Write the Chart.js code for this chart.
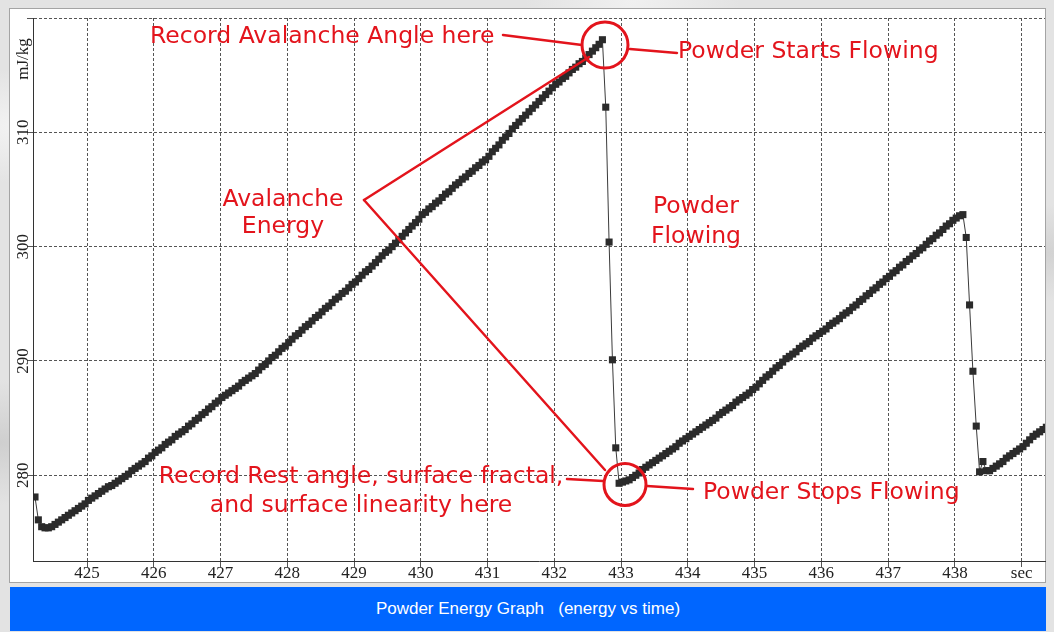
<!DOCTYPE html>
<html>
<head>
<meta charset="utf-8">
<script src="https://cdn.jsdelivr.net/npm/chart.js@4.4.1/dist/chart.umd.min.js"></script>
<style>
html, body { margin: 0; padding: 0; }
body {
    width: 1054px; height: 632px; overflow: hidden; position: relative;
    background-color: #e3e3e3;
    background-image:
        radial-gradient(ellipse at 2% 20%, #f3f3f3 0, rgba(243,243,243,0) 8%),
        radial-gradient(ellipse at 0% 70%, #cfcfcf 0, rgba(207,207,207,0) 10%),
        radial-gradient(ellipse at 99% 40%, #d2d2d2 0, rgba(210,210,210,0) 9%),
        radial-gradient(ellipse at 60% 0%, #f0f0f0 0, rgba(240,240,240,0) 12%);
}
#panel {
    position: absolute; left: 9px; top: 8px; width: 1035px; height: 573px;
    background: #fff; border: 1px solid #a4a4a4;
}
#bar {
    position: absolute; left: 10px; top: 587px; width: 1036px; height: 44px;
    background: #0066ff; color: #fff; text-align: center;
    font: 17px "Liberation Sans", Arial, sans-serif; line-height: 44px;
    white-space: pre; z-index: 2;
}
#chart { position: absolute; left: 0; top: 0; z-index: 1; }
</style>
</head>
<body>
<div id="panel"></div>
<canvas id="chart" width="1054" height="632"></canvas>
<div id="bar">Powder Energy Graph   (energy vs time)</div>
<script>
// first build-up (sec / mJ/kg)
var rise1Time = [
    424.22, 424.27, 424.32, 424.37, 424.42, 424.47, 424.52, 424.57, 424.62, 424.67,
    424.72, 424.77, 424.82, 424.87, 424.92, 424.97, 425.02, 425.07, 425.12, 425.17,
    425.22, 425.27, 425.32, 425.37, 425.42, 425.47, 425.52, 425.57, 425.62, 425.67,
    425.72, 425.77, 425.82, 425.87, 425.92, 425.97, 426.02, 426.07, 426.12, 426.17,
    426.22, 426.27, 426.32, 426.37, 426.42, 426.47, 426.52, 426.57, 426.62, 426.67,
    426.72, 426.77, 426.82, 426.87, 426.92, 426.97, 427.02, 427.07, 427.12, 427.17,
    427.22, 427.27, 427.32, 427.37, 427.42, 427.47, 427.52, 427.57, 427.62, 427.67,
    427.72, 427.77, 427.82, 427.87, 427.92, 427.97, 428.02, 428.07, 428.12, 428.17,
    428.22, 428.27, 428.32, 428.37, 428.42, 428.47, 428.52, 428.57, 428.62, 428.67,
    428.72, 428.77, 428.82, 428.87, 428.92, 428.97, 429.02, 429.07, 429.12, 429.17,
    429.22, 429.27, 429.32, 429.37, 429.42, 429.47, 429.52, 429.57, 429.62, 429.67,
    429.72, 429.77, 429.82, 429.87, 429.92, 429.97, 430.02, 430.07, 430.12, 430.17,
    430.22, 430.27, 430.32, 430.37, 430.42, 430.47, 430.52, 430.57, 430.62, 430.67,
    430.72, 430.77, 430.82, 430.87, 430.92, 430.97, 431.02, 431.07, 431.12, 431.17,
    431.22, 431.27, 431.32, 431.37, 431.42, 431.47, 431.52, 431.57, 431.62, 431.67,
    431.72, 431.77, 431.82, 431.87, 431.92, 431.97, 432.02, 432.07, 432.12, 432.17,
    432.22, 432.27, 432.32, 432.37, 432.42, 432.47, 432.52, 432.57, 432.62, 432.67,
    432.72
];
var rise1Energy = [
    278.1, 276.1, 275.5, 275.4, 275.4, 275.5, 275.7, 275.9, 276.1, 276.3,
    276.5, 276.7, 276.9, 277.1, 277.3, 277.5, 277.8, 278.0, 278.2, 278.4,
    278.6, 278.8, 279.0, 279.1, 279.3, 279.5, 279.7, 279.9, 280.1, 280.4,
    280.6, 280.8, 281.0, 281.2, 281.5, 281.7, 282.0, 282.2, 282.4, 282.7,
    282.9, 283.1, 283.4, 283.6, 283.8, 284.0, 284.3, 284.5, 284.8, 285.0,
    285.3, 285.5, 285.8, 286.0, 286.3, 286.5, 286.8, 287.0, 287.2, 287.4,
    287.6, 287.8, 288.1, 288.3, 288.5, 288.7, 288.9, 289.2, 289.5, 289.7,
    290.0, 290.3, 290.5, 290.8, 291.1, 291.3, 291.6, 291.9, 292.2, 292.4,
    292.7, 293.0, 293.2, 293.5, 293.8, 294.0, 294.3, 294.6, 294.8, 295.1,
    295.4, 295.6, 295.9, 296.1, 296.4, 296.7, 296.9, 297.2, 297.5, 297.8,
    298.0, 298.3, 298.6, 298.9, 299.2, 299.5, 299.7, 300.0, 300.3, 300.6,
    300.9, 301.2, 301.5, 301.8, 302.1, 302.4, 302.8, 303.0, 303.3, 303.5,
    303.8, 304.0, 304.3, 304.6, 304.8, 305.1, 305.4, 305.6, 305.9, 306.1,
    306.4, 306.6, 306.9, 307.1, 307.4, 307.6, 307.9, 308.3, 308.6, 308.9,
    309.3, 309.6, 309.9, 310.3, 310.6, 310.9, 311.2, 311.5, 311.8, 312.1,
    312.4, 312.7, 313.0, 313.3, 313.6, 313.9, 314.2, 314.4, 314.7, 314.9,
    315.2, 315.5, 315.7, 316.0, 316.2, 316.5, 316.8, 317.1, 317.4, 317.7,
    318.1
];
// avalanche
var drop1Time = [432.77, 432.82, 432.87, 432.92];
var drop1Energy = [312.2, 300.4, 290.1, 282.4];

// second build-up
var rise2Time = [
    432.97, 433.02, 433.07, 433.12, 433.17, 433.22, 433.27, 433.32, 433.37, 433.42,
    433.47, 433.52, 433.57, 433.62, 433.67, 433.72, 433.77, 433.82, 433.87, 433.92,
    433.97, 434.02, 434.07, 434.12, 434.17, 434.22, 434.27, 434.32, 434.37, 434.42,
    434.47, 434.52, 434.57, 434.62, 434.67, 434.72, 434.77, 434.82, 434.87, 434.92,
    434.97, 435.02, 435.07, 435.12, 435.17, 435.22, 435.27, 435.32, 435.37, 435.42,
    435.47, 435.52, 435.57, 435.62, 435.67, 435.72, 435.77, 435.82, 435.87, 435.92,
    435.97, 436.02, 436.07, 436.12, 436.17, 436.22, 436.27, 436.32, 436.37, 436.42,
    436.47, 436.52, 436.57, 436.62, 436.67, 436.72, 436.77, 436.82, 436.87, 436.92,
    436.97, 437.02, 437.07, 437.12, 437.17, 437.22, 437.27, 437.32, 437.37, 437.42,
    437.47, 437.52, 437.57, 437.62, 437.67, 437.72, 437.77, 437.82, 437.87, 437.92,
    437.97, 438.02, 438.07, 438.12
];
var rise2Energy = [
    279.3, 279.4, 279.5, 279.6, 279.8, 280.0, 280.2, 280.5, 280.7, 280.9,
    281.1, 281.3, 281.5, 281.7, 281.9, 282.1, 282.3, 282.5, 282.8, 283.0,
    283.2, 283.4, 283.6, 283.8, 284.0, 284.2, 284.4, 284.6, 284.8, 285.0,
    285.3, 285.5, 285.7, 285.9, 286.1, 286.4, 286.6, 286.8, 287.0, 287.2,
    287.5, 287.7, 288.0, 288.3, 288.6, 288.8, 289.1, 289.4, 289.6, 289.9,
    290.2, 290.4, 290.6, 290.8, 291.1, 291.3, 291.5, 291.7, 292.0, 292.2,
    292.4, 292.6, 292.8, 293.1, 293.3, 293.5, 293.7, 294.0, 294.2, 294.4,
    294.7, 294.9, 295.2, 295.4, 295.7, 295.9, 296.2, 296.4, 296.7, 296.9,
    297.2, 297.4, 297.7, 297.9, 298.2, 298.4, 298.7, 298.9, 299.2, 299.4,
    299.7, 299.9, 300.2, 300.5, 300.7, 301.0, 301.2, 301.5, 301.8, 302.0,
    302.3, 302.5, 302.7, 302.8
];
var drop2Time = [438.17, 438.22, 438.27, 438.32, 438.37];
var drop2Energy = [300.8, 294.9, 289.1, 284.3, 280.3];

var rise3Time = [
    438.42, 438.47, 438.52, 438.57, 438.62, 438.67, 438.72, 438.77, 438.82, 438.87,
    438.92, 438.97, 439.02, 439.07, 439.12, 439.17, 439.22, 439.27, 439.32, 439.37,
    439.42
];
var rise3Energy = [
    281.2, 280.4, 280.4, 280.6, 280.8, 281.0, 281.2, 281.5, 281.7, 281.9,
    282.1, 282.3, 282.5, 282.8, 283.1, 283.4, 283.6, 283.8, 284.0, 284.2,
    284.5
];

var xTicks = [425, 426, 427, 428, 429, 430, 431, 432, 433, 434, 435, 436, 437, 438, 439];
var xTickLabels = ['425', '426', '427', '428', '429', '430', '431', '432', '433', '434', '435', '436', '437', '438', 'sec'];
var yTicks = [280, 290, 300, 310, 320];
var yTickLabels = ['280', '290', '300', '310', 'mJ/kg'];

function toPoints(times, values) {
    var pts = [];
    for (var i = 0; i < Math.min(times.length, values.length); i++) {
        pts.push({ x: times[i], y: values[i] });
    }
    return pts;
}

var points = [].concat(
    toPoints(rise1Time, rise1Energy),
    toPoints(drop1Time, drop1Energy),
    toPoints(rise2Time, rise2Energy),
    toPoints(drop2Time, drop2Energy),
    toPoints(rise3Time, rise3Energy)
);

var RED = '#e3141c';

// red notes drawn on top of the plot, plus the rotated y labels
var notesPlugin = {
    id: 'notes',
    afterDraw: function(chart) {
        var c = chart.ctx;
        var ys = chart.scales.y;
        c.save();

        // y tick labels, rotated; the unit sits a bit below the top tick
        c.fillStyle = '#222';
        c.font = '17px "Liberation Serif", "Times New Roman", serif';
        c.textAlign = 'center';
        c.textBaseline = 'middle';
        yTicks.forEach(function(v, i) {
            var py = ys.getPixelForValue(v);
            if (yTickLabels[i] === 'mJ/kg') py += 41;
            c.save();
            c.translate(22.5, py);
            c.rotate(-Math.PI / 2);
            c.fillText(yTickLabels[i], 0, 1);
            c.restore();
        });

        c.strokeStyle = RED;
        c.fillStyle = RED;
        c.lineCap = 'round';

        function line(x1, y1, x2, y2) {
            c.lineWidth = 2.5;
            c.beginPath();
            c.moveTo(x1, y1);
            c.lineTo(x2, y2);
            c.stroke();
        }
        function ring(x, y, r) {
            c.lineWidth = 3;
            c.beginPath();
            c.arc(x, y, r, 0, Math.PI * 2);
            c.stroke();
        }

        line(503, 35, 582, 45);
        line(630, 49, 677, 53);
        line(364, 200, 589, 57);
        line(364, 200, 605, 470);
        line(567, 479, 603, 481);
        line(647, 486, 693, 489);
        ring(605, 45, 23);
        ring(625, 484.5, 21);

        c.font = '23.5px "DejaVu Sans", sans-serif';
        c.textBaseline = 'alphabetic';
        c.textAlign = 'left';
        c.fillText('Record Avalanche Angle here', 150, 43);
        c.fillText('Powder Starts Flowing', 678, 58);
        c.fillText('Powder Stops Flowing', 703, 499);
        c.textAlign = 'center';
        c.fillText('Avalanche', 283, 206);
        c.fillText('Energy', 283, 233);
        c.fillText('Powder', 696, 213);
        c.fillText('Flowing', 696, 243);
        c.fillText('Record Rest angle, surface fractal,', 361, 483);
        c.fillText('and surface linearity here', 361, 512);

        c.restore();
    }
};

var ctx = document.getElementById('chart').getContext('2d');
new Chart(ctx, {
    type: 'line',
    data: {
        datasets: [{
            data: points,
            borderColor: '#3a3a3a',
            borderWidth: 1,
            tension: 0,
            fill: false,
            pointStyle: 'rect',
            pointRadius: 5,
            pointBorderWidth: 0,
            pointBackgroundColor: '#2b2b2b',
            pointBorderColor: '#2b2b2b'
        }]
    },
    options: {
        responsive: false,
        animation: false,
        devicePixelRatio: 1,
        layout: { padding: { left: 10, top: 18, right: 9, bottom: 49 } },
        plugins: { legend: { display: false }, tooltip: { enabled: false } },
        scales: {
            x: {
                type: 'linear',
                min: 424.19,
                max: 439.35,
                afterBuildTicks: function(scale) {
                    scale.ticks = xTicks.map(function(v) { return { value: v }; });
                },
                afterFit: function(scale) { scale.height = 22; },
                ticks: {
                    autoSkip: false,
                    maxRotation: 0,
                    padding: -4,
                    color: '#222',
                    font: { family: '"Liberation Serif", "Times New Roman", serif', size: 17 },
                    callback: function(value) {
                        var i = xTicks.indexOf(value);
                        return i >= 0 ? xTickLabels[i] : '';
                    }
                },
                grid: { color: '#555', lineWidth: 1, tickLength: 6, tickColor: '#555' },
                border: { display: true, color: '#333', width: 1, dash: [3, 2] }
            },
            y: {
                min: 272.5,
                max: 320,
                afterBuildTicks: function(scale) {
                    scale.ticks = yTicks.map(function(v) { return { value: v }; });
                },
                afterFit: function(scale) { scale.width = 23; },
                ticks: { display: false },
                grid: { color: '#555', lineWidth: 1, tickLength: 6, tickColor: '#555' },
                border: { display: true, color: '#333', width: 1, dash: [3, 2] }
            }
        }
    },
    plugins: [notesPlugin]
});
</script>
</body>
</html>
